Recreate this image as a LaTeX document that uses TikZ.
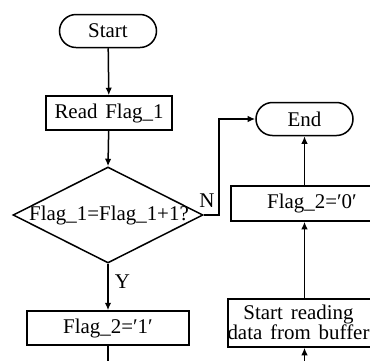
\documentclass[tikz,border=0pt]{standalone}
\usepackage{fontspec}
\setmainfont{Liberation Serif}[WordSpace=1.5]
\usetikzlibrary{arrows.meta,shapes.geometric,shapes.misc}
\begin{document}
\begin{tikzpicture}[x=1bp,y=-1bp,
  every node/.style={font=\fontsize{21}{19}\selectfont},
  flowline/.style={line width=1.5bp},
  arrowline/.style={flowline,-{Latex[length=7.5bp,width=6.5bp]}},
  terminal/.style={draw,line width=1.5bp,rounded rectangle,
    minimum width=97bp,minimum height=33bp,inner sep=0pt},
  procbox/.style={draw,line width=1.5bp,rectangle,inner sep=0pt},
  decision/.style={draw,line width=1.5bp,diamond,
    minimum width=190bp,minimum height=96bp,inner sep=0pt},
  tag/.style={inner sep=0pt}]
\useasboundingbox (0,0) rectangle (370,361);
\clip (0,0) rectangle (370,361);

% left column
\node[terminal] (start) at (108,31) {Start};
\node[procbox,minimum width=126bp,minimum height=34bp] (read) at (109,113) {Read Flag\_1};
\node[decision] (dec) at (108,215) {};
\node[tag] (dectext) at (109,215) {Flag\_1=Flag\_1+1?};
\node[procbox,minimum width=162bp,minimum height=34bp] (set1) at (108,328) {Flag\_2=′1′};

% right column
\node[terminal] (finish) at (304.5,119) {End};
\node[procbox,minimum width=162bp,minimum height=35bp] (set0) at (312,203.5) {Flag\_2=′0′};
\node[procbox,minimum width=162bp,minimum height=48bp] (buf) at (309,323) {};
\node[tag,align=center] (buftext) at (298.5,322) {Start reading\\data from buffer};

% loose ends below the visible part
\coordinate (leftout) at (108,375);
\coordinate (rightin) at (304.5,375);

% connectors
\draw[arrowline] (start) -- (read);
\draw[arrowline] (read) -- (dec.north);
\draw[arrowline] (dec.south) -- node[tag,right=6bp,pos=0.38] (ylab) {Y} (set1);
\draw[arrowline] (dec.east) -- ++(15,0) coordinate (bend) |- (finish.west);
\node[tag] (nlab) at (207,201) {N};
\draw[flowline] (set1) -- (leftout);
\draw[arrowline] (rightin) -- (buf.south -| finish.south);
\draw[arrowline] (buf.north -| finish.south) -- (set0.south -| finish.south);
\draw[arrowline] (set0.north -| finish.south) -- (finish.south);
\end{tikzpicture}
\end{document}
